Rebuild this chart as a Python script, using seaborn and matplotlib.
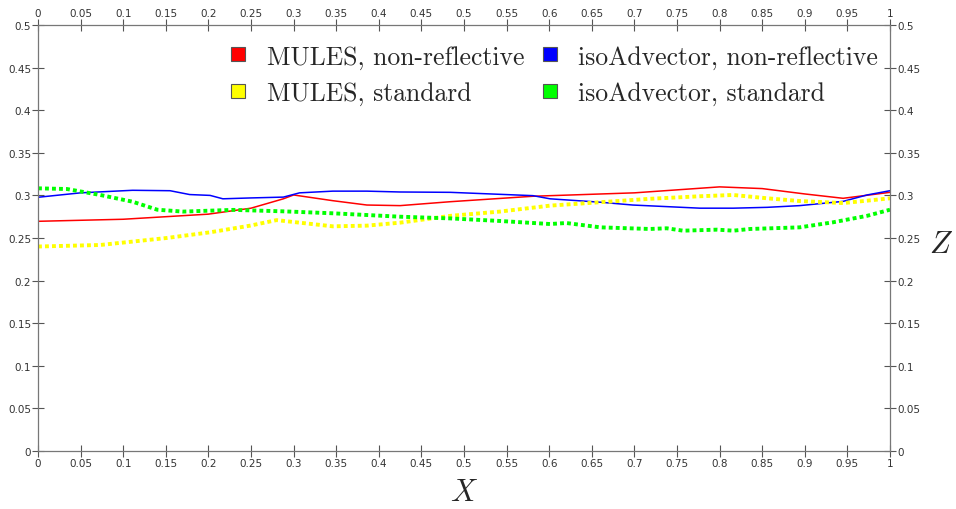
import matplotlib
matplotlib.use("Agg")
import matplotlib.pyplot as plt
import seaborn as sns
import pandas as pd
from matplotlib.lines import Line2D

# --- data -------------------------------------------------------------
mules_nr_x = [0.0, 0.1, 0.2, 0.25, 0.288, 0.3, 0.346, 0.386, 0.425, 0.484, 0.581, 0.7, 0.8, 0.85, 0.9, 0.945, 1.0]
mules_nr_z = [0.2696, 0.272, 0.278, 0.285, 0.296, 0.3005, 0.2938, 0.2887, 0.288, 0.2926, 0.299, 0.303, 0.310, 0.308, 0.3017, 0.2966, 0.3036]

iso_nr_x = [0.0, 0.05, 0.111, 0.155, 0.178, 0.202, 0.217, 0.249, 0.288, 0.307, 0.346, 0.386, 0.425, 0.484, 0.581, 0.601, 0.66, 0.698, 0.777, 0.816, 0.856, 0.894, 0.945, 0.973, 1.0]
iso_nr_z = [0.2978, 0.303, 0.306, 0.3055, 0.301, 0.300, 0.296, 0.297, 0.298, 0.303, 0.305, 0.305, 0.304, 0.3036, 0.2997, 0.296, 0.292, 0.2887, 0.285, 0.285, 0.286, 0.288, 0.293, 0.3005, 0.3055]

mules_std_x = [0.0, 0.073, 0.151, 0.202, 0.249, 0.28, 0.307, 0.346, 0.386, 0.425, 0.484, 0.542, 0.601, 0.66, 0.718, 0.777, 0.816, 0.856, 0.894, 0.945, 0.973, 1.0]
mules_std_z = [0.240, 0.2418, 0.250, 0.2567, 0.2645, 0.271, 0.268, 0.2637, 0.2645, 0.268, 0.276, 0.281, 0.288, 0.292, 0.296, 0.299, 0.3005, 0.2966, 0.2934, 0.291, 0.2938, 0.2966]

iso_std_x = [0.0, 0.034, 0.073, 0.111, 0.14, 0.17, 0.229, 0.288, 0.346, 0.425, 0.484, 0.542, 0.601, 0.62, 0.66, 0.718, 0.738, 0.757, 0.797, 0.816, 0.836, 0.894, 0.933, 0.973, 1.0]
iso_std_z = [0.3083, 0.3075, 0.3005, 0.2926, 0.2832, 0.281, 0.283, 0.2813, 0.279, 0.275, 0.273, 0.270, 0.2664, 0.2676, 0.2625, 0.2606, 0.2614, 0.2586, 0.2598, 0.2586, 0.2606, 0.2625, 0.2684, 0.276, 0.2832]

labels = ["MULES, non-reflective", "MULES, standard", "isoAdvector, non-reflective", "isoAdvector, standard"]
colors = ["#ff0000", "#ffff00", "#0000ff", "#00ff00"]
xticks = [0, 0.05, 0.1, 0.15, 0.2, 0.25, 0.3, 0.35, 0.4, 0.45, 0.5, 0.55, 0.6, 0.65, 0.7, 0.75, 0.8, 0.85, 0.9, 0.95, 1]
yticks = [0, 0.05, 0.1, 0.15, 0.2, 0.25, 0.3, 0.35, 0.4, 0.45, 0.5]

# --- plot -------------------------------------------------------------
sns.set_style("white")
plt.rcParams["mathtext.fontset"] = "cm"

fig = plt.figure(figsize=(9.56, 5.10), dpi=100)
ax = fig.add_axes([38/956, 1-452/510, (890-38)/956, (452-26)/510])

series = [
    (mules_nr_x, mules_nr_z, colors[0], "-", 1.1),
    (iso_nr_x, iso_nr_z, colors[2], "-", 1.1),
    (mules_std_x, mules_std_z, colors[1], (0, (1, 0.8)), 2.8),
    (iso_std_x, iso_std_z, colors[3], (0, (1, 0.8)), 2.8),
]
for xs, zs, c, ls, lw in series:
    df = pd.DataFrame({"x": xs, "z": zs})
    sns.lineplot(data=df, x="x", y="z", ax=ax, color=c, linestyle=ls, linewidth=lw,
                 sort=True, estimator=None)

ax.set_xlim(0, 1)
ax.set_ylim(0, 0.5)
ax.set_xticks(xticks)
ax.set_xticklabels([f"{t:g}" for t in xticks])
ax.set_yticks(yticks)
ax.set_yticklabels([f"{t:g}" for t in yticks])
ax.tick_params(axis="both", which="both", direction="inout", length=8, width=0.8,
               color="#555555", labelsize=7.5, labelcolor="#333333", pad=1,
               top=True, labeltop=True, right=True, labelright=True,
               bottom=True, labelbottom=True, left=True, labelleft=True)
for s in ax.spines.values():
    s.set_color("#777777")
    s.set_linewidth(0.9)

ax.set_xlabel("$X$", fontsize=22)
ax.xaxis.set_label_coords(0.5, -0.062)
ax.set_ylabel("$Z$", fontsize=22, rotation=0, va="center")
ax.yaxis.set_label_position("right")
ax.yaxis.set_label_coords(1.06, 0.52)

handles = [Line2D([], [], marker="s", linestyle="none", markersize=10.5,
                  markerfacecolor=c, markeredgecolor="#555555", markeredgewidth=0.8)
           for c in colors]
leg = ax.legend(handles, labels, ncol=2, loc="upper right", bbox_to_anchor=(1.004, 0.99),
                frameon=False, prop={"family": "cmr10", "size": 18.5},
                handlelength=0.8, handletextpad=0.7, columnspacing=0.6, labelspacing=0.5,
                borderaxespad=0.2)

fig.savefig("out.png", dpi=100)
